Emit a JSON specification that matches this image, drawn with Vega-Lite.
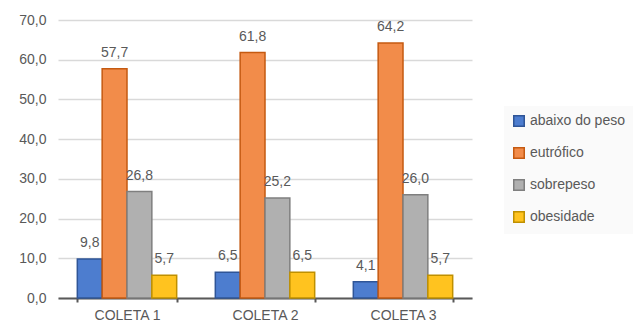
{
  "$schema": "https://vega.github.io/schema/vega-lite/v6.json",
  "width": 414,
  "height": 278,
  "autosize": {"type": "none"},
  "padding": {"left": 58, "top": 20, "right": 162, "bottom": 29},
  "background": "white",
  "config": {
    "locale": {"number": {"decimal": ",", "thousands": ".", "grouping": [3], "currency": ["", ""]}},
    "view": {"stroke": null},
    "font": "Liberation Sans"
  },
  "data": {
    "values": [
      {"coleta": "COLETA 1", "categoria": "abaixo do peso", "ordem": 1, "valor": 9.8},
      {"coleta": "COLETA 1", "categoria": "eutrófico", "ordem": 2, "valor": 57.7},
      {"coleta": "COLETA 1", "categoria": "sobrepeso", "ordem": 3, "valor": 26.8},
      {"coleta": "COLETA 1", "categoria": "obesidade", "ordem": 4, "valor": 5.7},
      {"coleta": "COLETA 2", "categoria": "abaixo do peso", "ordem": 1, "valor": 6.5},
      {"coleta": "COLETA 2", "categoria": "eutrófico", "ordem": 2, "valor": 61.8},
      {"coleta": "COLETA 2", "categoria": "sobrepeso", "ordem": 3, "valor": 25.2},
      {"coleta": "COLETA 2", "categoria": "obesidade", "ordem": 4, "valor": 6.5},
      {"coleta": "COLETA 3", "categoria": "abaixo do peso", "ordem": 1, "valor": 4.1},
      {"coleta": "COLETA 3", "categoria": "eutrófico", "ordem": 2, "valor": 64.2},
      {"coleta": "COLETA 3", "categoria": "sobrepeso", "ordem": 3, "valor": 26.0},
      {"coleta": "COLETA 3", "categoria": "obesidade", "ordem": 4, "valor": 5.7}
    ]
  },
  "encoding": {
    "x": {
      "field": "coleta", "type": "nominal",
      "scale": {"paddingInner": 0.28, "paddingOuter": 0.14},
      "axis": {
        "title": null, "labelAngle": 0, "labelFontSize": 14, "labelColor": "#595959",
        "domainColor": "#595959", "domainWidth": 2, "tickColor": "#595959", "tickWidth": 2,
        "tickSize": 4, "tickBand": "extent", "labelPadding": 6
      }
    },
    "xOffset": {"field": "categoria", "type": "nominal", "sort": ["abaixo do peso", "eutrófico", "sobrepeso", "obesidade"]},
    "y": {
      "field": "valor", "type": "quantitative",
      "scale": {"domain": [0, 70], "nice": false},
      "axis": {
        "title": null, "values": [0, 10, 20, 30, 40, 50, 60, 70], "format": ".1f",
        "labelFontSize": 14, "labelColor": "#595959", "domain": false, "ticks": false,
        "labelPadding": 12, "gridColor": "#d9d9d9", "gridWidth": 1.5
      }
    }
  },
  "layer": [
    {
      "mark": {"type": "bar", "strokeWidth": 1.5},
      "encoding": {
        "color": {
          "field": "categoria", "type": "nominal",
          "sort": ["abaixo do peso", "eutrófico", "sobrepeso", "obesidade"],
          "scale": {
            "domain": ["abaixo do peso", "eutrófico", "sobrepeso", "obesidade"],
            "range": ["#4D7DCF", "#F28C4A", "#B0B0B0", "#FFC31F"]
          },
          "legend": {
            "title": null, "orient": "none", "legendX": 446, "legendY": 86,
            "symbolType": "square", "symbolSize": 110, "symbolStrokeWidth": 1.5,
            "labelFontSize": 14, "labelColor": "#595959", "labelOffset": 4,
            "rowPadding": 14, "padding": 8, "fillColor": "#fafafa"
          }
        },
        "stroke": {
          "field": "categoria", "type": "nominal",
          "scale": {
            "domain": ["abaixo do peso", "eutrófico", "sobrepeso", "obesidade"],
            "range": ["#2F5597", "#C55A11", "#7F7F7F", "#BF9000"]
          },
          "legend": null
        }
      }
    },
    {
      "mark": {"type": "text", "dy": -16, "fontSize": 14, "color": "#595959"},
      "encoding": {
        "text": {"field": "valor", "type": "quantitative", "format": ".1f"}
      }
    }
  ]
}
